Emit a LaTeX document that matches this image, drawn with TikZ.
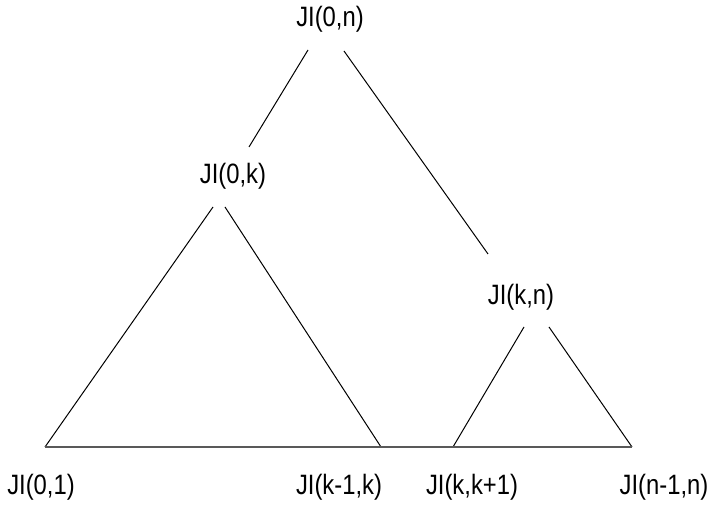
\documentclass[tikz,border=0pt]{standalone}
\usepackage{fontspec}
\setmainfont{Liberation Sans}
\usetikzlibrary{positioning}

\newcommand{\jlabel}[1]{\scalebox{0.85}[1]{JI(#1)}}

\begin{document}
\begin{tikzpicture}[
    x=0.5pt, y=-0.5pt,
    lbl/.style={inner sep=0pt, font=\fontsize{14}{16}\selectfont},
    edge/.style={line width=0.5pt, black},
    base/.style={line width=1pt, black!65}
  ]
    \useasboundingbox (0,0) rectangle (709,506);
    % inner nodes of the split
    \node[lbl] (jon) at (330,19) {\jlabel{0,n}};
    \node[lbl] (jok) at (233,176) {\jlabel{0,k}};
    \node[lbl] (jkn) at (521,297) {\jlabel{k,n}};
    % leaves
    \node[lbl] (j01) at (41,487) {\jlabel{0,1}};
    \node[lbl] (jkk) at (339,487) {\jlabel{k-1,k}};
    \node[lbl] (jkk1) at (472,487) {\jlabel{k,k+1}};
    \node[lbl] (jn) at (664,487) {\jlabel{n-1,n}};
    % corners on the base line
    \coordinate (c01) at (45,447);
    \coordinate (ckk) at (381,447);
    \coordinate (ckk1) at (453,447);
    \coordinate (cn) at (632,447);
    \draw[edge] ([shift={(-22,31)}]jon.center) -- ([shift={(16,-29)}]jok.center);
    \draw[edge] ([shift={(14,32)}]jon.center) -- ([shift={(-33,-43)}]jkn.center);
    \draw[edge] ([shift={(-20,31)}]jok.center) -- (c01);
    \draw[edge] ([shift={(-8,31)}]jok.center) -- (ckk);
    \draw[edge] ([shift={(3,30)}]jkn.center) -- (ckk1);
    \draw[edge] ([shift={(28,30)}]jkn.center) -- (cn);
    \draw[base] (c01) -- (cn);
  \end{tikzpicture}
\end{document}
